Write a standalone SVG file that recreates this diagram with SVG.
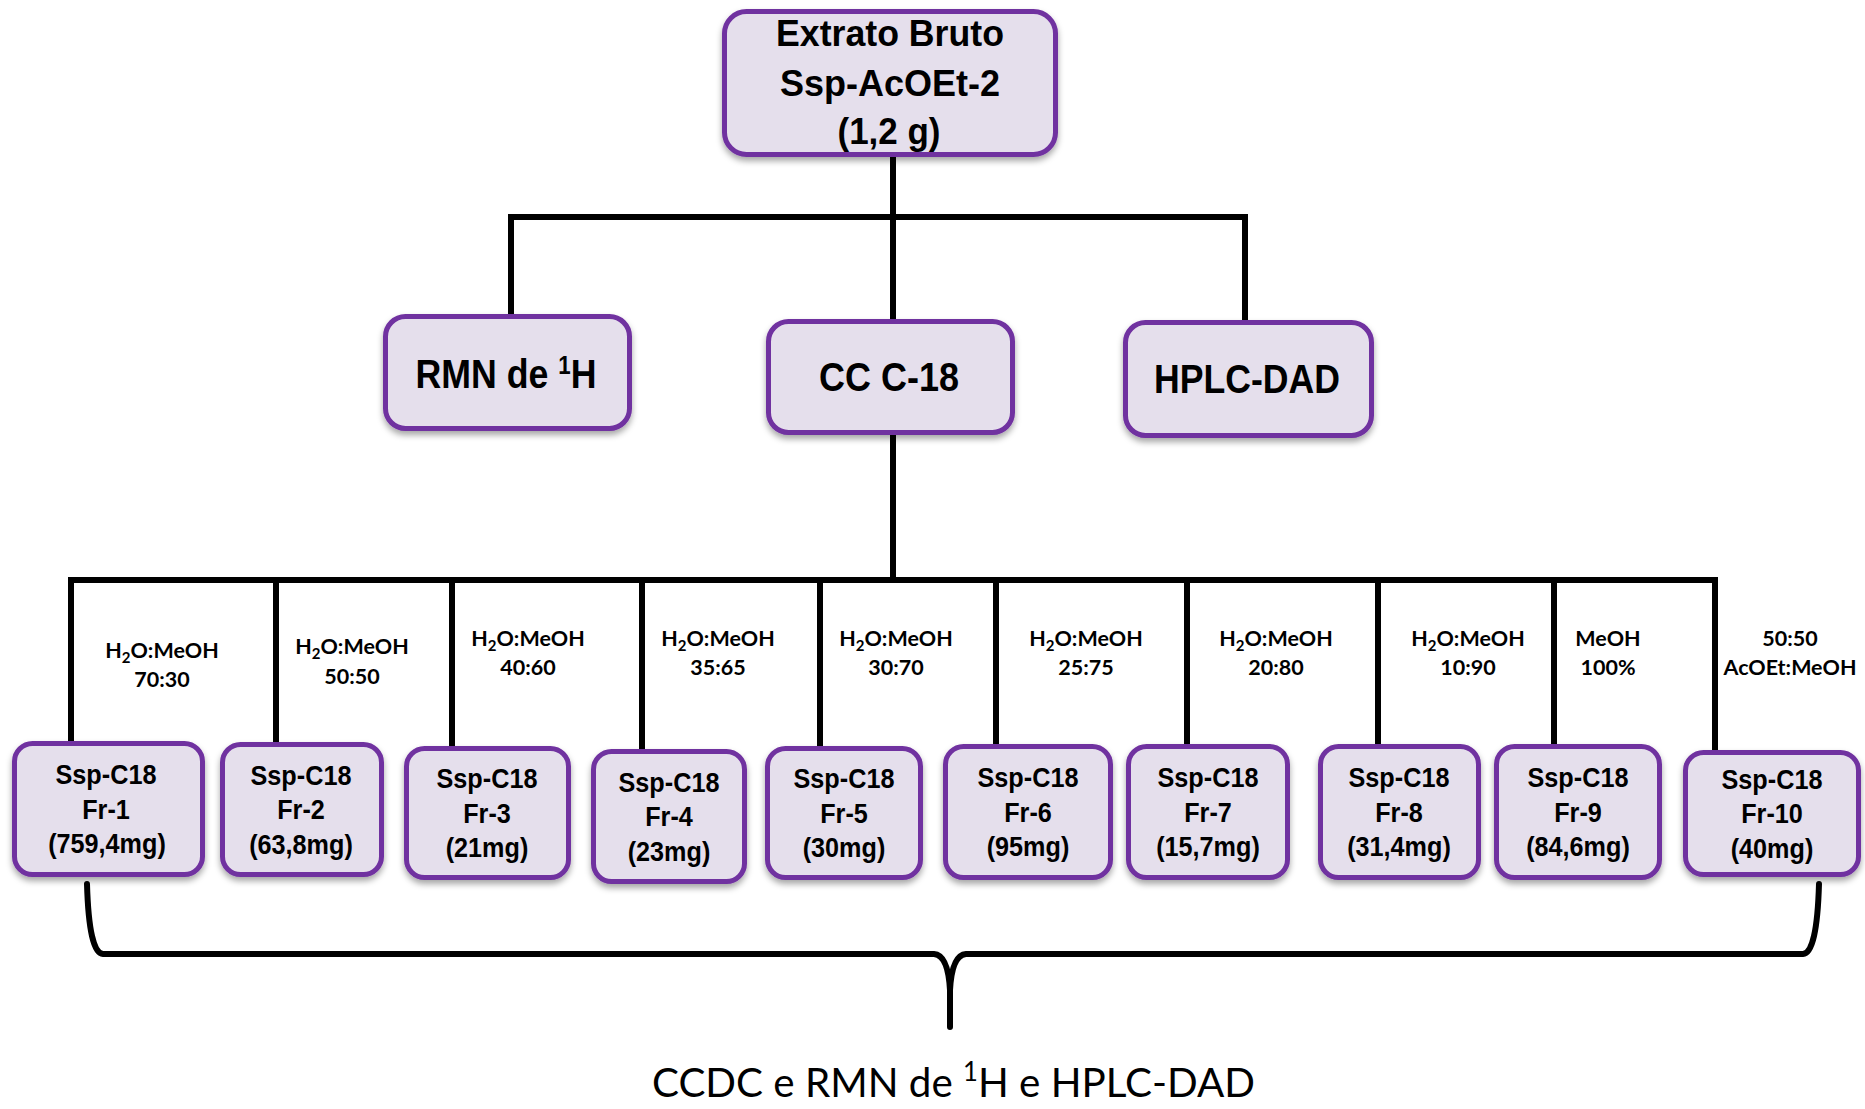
<svg xmlns="http://www.w3.org/2000/svg" width="1865" height="1109" viewBox="0 0 1865 1109">
  <defs>
    <filter id="shadow" x="-10%" y="-10%" width="120%" height="135%">
      <feDropShadow dx="0" dy="4" stdDeviation="3" flood-color="#000" flood-opacity="0.35"/>
    </filter>
  </defs>
  <style>
    .box{fill:#e5dfec;stroke:#7030a0;stroke-width:5;filter:url(#shadow)}
    .link{fill:none;stroke:#000;stroke-width:6;stroke-linejoin:miter}
    .brace{fill:none;stroke:#000;stroke-width:6;stroke-linecap:round;stroke-linejoin:round}
    .t{font-family:"Liberation Sans",Arial,sans-serif;font-weight:bold;fill:#000;text-anchor:middle}
    .top{font-size:36.5px}
    .big{font-size:40px}
    .fr{font-size:28px}
    .lbl{font-family:Lato,"Liberation Sans",sans-serif;font-weight:bold;font-size:21.5px;fill:#000;text-anchor:middle}
    .note{font-family:Lato,"Liberation Sans",sans-serif;font-size:41px;fill:#000;text-anchor:middle}
  </style>
  <rect width="1865" height="1109" fill="#fff"/>

  <!-- connectors -->
  <g id="connectors">
    <path class="link" d="M893 157 V321"/>
    <path class="link" d="M511 316 V217 H1245 V322"/>
    <path class="link" d="M893 433 V580"/>
    <path class="link" d="M71 743 V580 H1715 V752"/>
    <path class="link" d="M276 580 V744"/>
    <path class="link" d="M452 580 V748"/>
    <path class="link" d="M642 580 V751"/>
    <path class="link" d="M820 580 V748"/>
    <path class="link" d="M996 580 V746"/>
    <path class="link" d="M1187 580 V746"/>
    <path class="link" d="M1378 580 V746"/>
    <path class="link" d="M1554 580 V746"/>
    <!-- curly brace gathering all fractions -->
    <path class="brace" d="M87 884 Q89 953 103 954 L934 954 Q948 955 950 990 L950 1027 L950 990 Q952 955 966 954 L1803 954 Q1817 953 1819 884"/>
  </g>

  <!-- step-gradient labels -->
  <g id="labels">
    <text class="lbl" x="162" y="658">H<tspan font-size="15" dy="5">2</tspan><tspan dy="-5">O:MeOH</tspan></text>
    <text class="lbl" x="162" y="687">70:30</text>
    <text class="lbl" x="352" y="654">H<tspan font-size="15" dy="5">2</tspan><tspan dy="-5">O:MeOH</tspan></text>
    <text class="lbl" x="352" y="684">50:50</text>
    <text class="lbl" x="528" y="646">H<tspan font-size="15" dy="5">2</tspan><tspan dy="-5">O:MeOH</tspan></text>
    <text class="lbl" x="528" y="675">40:60</text>
    <text class="lbl" x="718" y="646">H<tspan font-size="15" dy="5">2</tspan><tspan dy="-5">O:MeOH</tspan></text>
    <text class="lbl" x="718" y="675">35:65</text>
    <text class="lbl" x="896" y="646">H<tspan font-size="15" dy="5">2</tspan><tspan dy="-5">O:MeOH</tspan></text>
    <text class="lbl" x="896" y="675">30:70</text>
    <text class="lbl" x="1086" y="646">H<tspan font-size="15" dy="5">2</tspan><tspan dy="-5">O:MeOH</tspan></text>
    <text class="lbl" x="1086" y="675">25:75</text>
    <text class="lbl" x="1276" y="646">H<tspan font-size="15" dy="5">2</tspan><tspan dy="-5">O:MeOH</tspan></text>
    <text class="lbl" x="1276" y="675">20:80</text>
    <text class="lbl" x="1468" y="646">H<tspan font-size="15" dy="5">2</tspan><tspan dy="-5">O:MeOH</tspan></text>
    <text class="lbl" x="1468" y="675">10:90</text>
    <text class="lbl" x="1608" y="646">MeOH</text>
    <text class="lbl" x="1608" y="675">100%</text>
    <text class="lbl" x="1790" y="646">50:50</text>
    <text class="lbl" x="1790" y="675">AcOEt:MeOH</text>
  </g>

  <g id="extrato">
    <rect class="box" x="724.5" y="11.5" width="331" height="143" rx="22"/>
    <text class="t top" x="890" y="46" textLength="228" lengthAdjust="spacingAndGlyphs">Extrato Bruto</text>
    <text class="t top" x="890" y="96" textLength="220" lengthAdjust="spacingAndGlyphs">Ssp-AcOEt-2</text>
    <text class="t top" x="889" y="144" textLength="103" lengthAdjust="spacingAndGlyphs">(1,2 g)</text>
  </g>

  <g id="rmn">
    <rect class="box" x="385.5" y="316.5" width="244" height="112" rx="20"/>
    <text class="t big" x="506" y="388" textLength="181" lengthAdjust="spacingAndGlyphs">RMN de <tspan font-size="25" baseline-shift="14">1</tspan>H</text>
  </g>

  <g id="cc">
    <rect class="box" x="768.5" y="321.5" width="244" height="111" rx="20"/>
    <text class="t big" x="889" y="391" textLength="140" lengthAdjust="spacingAndGlyphs">CC C-18</text>
  </g>

  <g id="hplc">
    <rect class="box" x="1125.5" y="322.5" width="246" height="113" rx="20"/>
    <text class="t big" x="1247" y="393" textLength="186" lengthAdjust="spacingAndGlyphs">HPLC-DAD</text>
  </g>

  <g id="fr1">
    <rect class="box" x="14.5" y="743.5" width="188" height="131" rx="18"/>
    <text class="t fr" x="106" y="784" textLength="101" lengthAdjust="spacingAndGlyphs">Ssp-C18</text>
    <text class="t fr" x="106" y="818.5" textLength="47.6" lengthAdjust="spacingAndGlyphs">Fr-1</text>
    <text class="t fr" x="107" y="853" textLength="117.6" lengthAdjust="spacingAndGlyphs">(759,4mg)</text>
  </g>
  <g id="fr2">
    <rect class="box" x="222.5" y="744.5" width="159" height="130" rx="18"/>
    <text class="t fr" x="301" y="784.5" textLength="101" lengthAdjust="spacingAndGlyphs">Ssp-C18</text>
    <text class="t fr" x="301" y="819" textLength="47.6" lengthAdjust="spacingAndGlyphs">Fr-2</text>
    <text class="t fr" x="301" y="853.5" textLength="103.6" lengthAdjust="spacingAndGlyphs">(63,8mg)</text>
  </g>
  <g id="fr3">
    <rect class="box" x="406.5" y="748.5" width="162" height="129" rx="18"/>
    <text class="t fr" x="487" y="788" textLength="101" lengthAdjust="spacingAndGlyphs">Ssp-C18</text>
    <text class="t fr" x="487" y="822.5" textLength="47.6" lengthAdjust="spacingAndGlyphs">Fr-3</text>
    <text class="t fr" x="487" y="857" textLength="82.6" lengthAdjust="spacingAndGlyphs">(21mg)</text>
  </g>
  <g id="fr4">
    <rect class="box" x="593.5" y="751.5" width="151" height="130" rx="18"/>
    <text class="t fr" x="669" y="791.5" textLength="101" lengthAdjust="spacingAndGlyphs">Ssp-C18</text>
    <text class="t fr" x="669" y="826" textLength="47.6" lengthAdjust="spacingAndGlyphs">Fr-4</text>
    <text class="t fr" x="669" y="860.5" textLength="82.6" lengthAdjust="spacingAndGlyphs">(23mg)</text>
  </g>
  <g id="fr5">
    <rect class="box" x="767.5" y="748.5" width="153" height="129" rx="18"/>
    <text class="t fr" x="844" y="788" textLength="101" lengthAdjust="spacingAndGlyphs">Ssp-C18</text>
    <text class="t fr" x="844" y="822.5" textLength="47.6" lengthAdjust="spacingAndGlyphs">Fr-5</text>
    <text class="t fr" x="844" y="857" textLength="82.6" lengthAdjust="spacingAndGlyphs">(30mg)</text>
  </g>
  <g id="fr6">
    <rect class="box" x="945.5" y="746.5" width="165" height="131" rx="18"/>
    <text class="t fr" x="1028" y="787" textLength="101" lengthAdjust="spacingAndGlyphs">Ssp-C18</text>
    <text class="t fr" x="1028" y="821.5" textLength="47.6" lengthAdjust="spacingAndGlyphs">Fr-6</text>
    <text class="t fr" x="1028" y="856" textLength="82.6" lengthAdjust="spacingAndGlyphs">(95mg)</text>
  </g>
  <g id="fr7">
    <rect class="box" x="1128.5" y="746.5" width="159" height="131" rx="18"/>
    <text class="t fr" x="1208" y="787" textLength="101" lengthAdjust="spacingAndGlyphs">Ssp-C18</text>
    <text class="t fr" x="1208" y="821.5" textLength="47.6" lengthAdjust="spacingAndGlyphs">Fr-7</text>
    <text class="t fr" x="1208" y="856" textLength="103.6" lengthAdjust="spacingAndGlyphs">(15,7mg)</text>
  </g>
  <g id="fr8">
    <rect class="box" x="1320.5" y="746.5" width="158" height="131" rx="18"/>
    <text class="t fr" x="1399" y="787" textLength="101" lengthAdjust="spacingAndGlyphs">Ssp-C18</text>
    <text class="t fr" x="1399" y="821.5" textLength="47.6" lengthAdjust="spacingAndGlyphs">Fr-8</text>
    <text class="t fr" x="1399" y="856" textLength="103.6" lengthAdjust="spacingAndGlyphs">(31,4mg)</text>
  </g>
  <g id="fr9">
    <rect class="box" x="1496.5" y="746.5" width="163" height="131" rx="18"/>
    <text class="t fr" x="1578" y="787" textLength="101" lengthAdjust="spacingAndGlyphs">Ssp-C18</text>
    <text class="t fr" x="1578" y="821.5" textLength="47.6" lengthAdjust="spacingAndGlyphs">Fr-9</text>
    <text class="t fr" x="1578" y="856" textLength="103.6" lengthAdjust="spacingAndGlyphs">(84,6mg)</text>
  </g>
  <g id="fr10">
    <rect class="box" x="1685.5" y="752.5" width="173" height="122" rx="18"/>
    <text class="t fr" x="1772" y="788.5" textLength="101" lengthAdjust="spacingAndGlyphs">Ssp-C18</text>
    <text class="t fr" x="1772" y="823" textLength="61.6" lengthAdjust="spacingAndGlyphs">Fr-10</text>
    <text class="t fr" x="1772" y="857.5" textLength="82.6" lengthAdjust="spacingAndGlyphs">(40mg)</text>
  </g>

  <text class="note" x="953.5" y="1097" textLength="603" lengthAdjust="spacingAndGlyphs">CCDC e RMN de <tspan font-size="26" baseline-shift="16">1</tspan>H e HPLC-DAD</text>
</svg>
